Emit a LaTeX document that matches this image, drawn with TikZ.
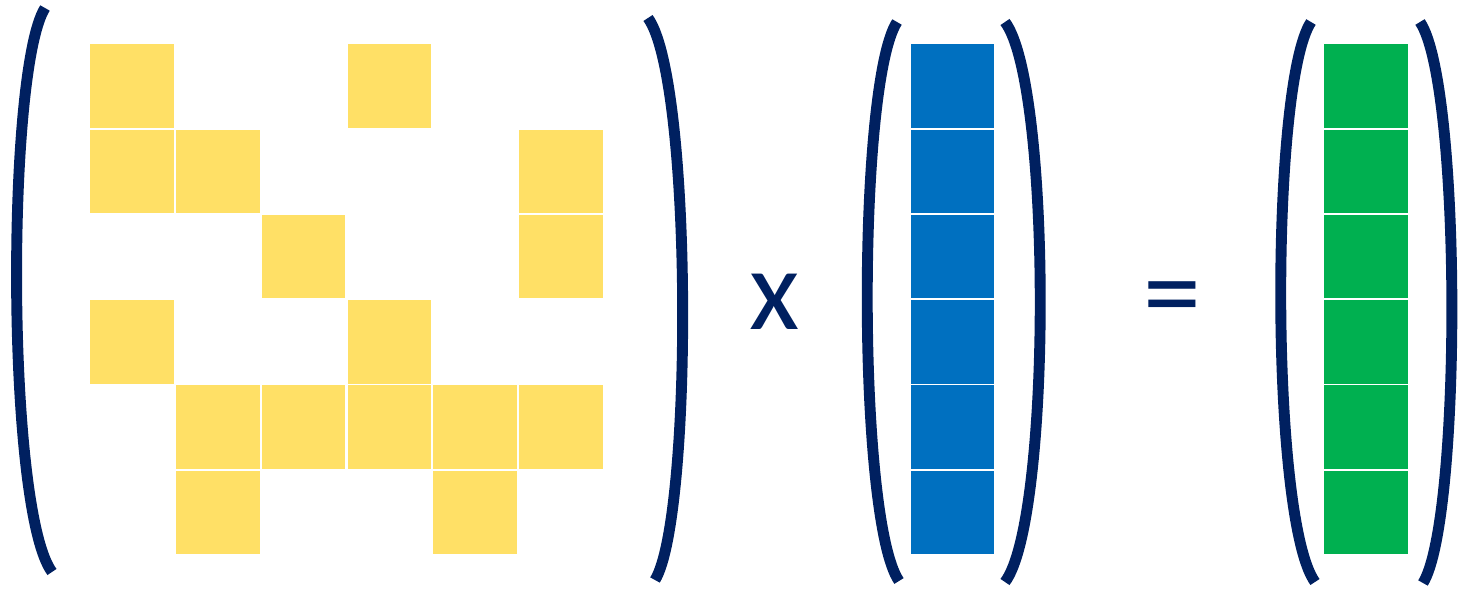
\documentclass[tikz,border=0pt]{standalone}
\usepackage{fontspec}
\newfontfamily\opfont{Carlito}
\definecolor{parnavy}{RGB}{0,32,96}
\definecolor{sqyellow}{RGB}{255,224,102}
\definecolor{sqblue}{RGB}{0,112,192}
\definecolor{sqgreen}{RGB}{0,176,80}
\tikzset{
  cell/.style={minimum size=0.835cm, inner sep=0pt, outer sep=0pt, draw=none},
  ylwcell/.style={cell, fill=sqyellow},
  blucell/.style={cell, fill=sqblue},
  grncell/.style={cell, fill=sqgreen},
  paren/.style={draw=parnavy, line width=3.1pt},
  optext/.style={text=parnavy, font=\opfont\fontsize{33}{38}\selectfont, inner sep=0pt, anchor=base}
}
\begin{document}
\begin{tikzpicture}[x=0.01cm, y=-0.01cm]
    \useasboundingbox (0,0) rectangle (1459,591);
    % sparse matrix
    \foreach \r/\c in {0/0,0/3,1/0,1/1,1/5,2/2,2/5,3/0,3/3,4/1,4/2,4/3,4/4,4/5,5/1,5/4}
        \node[ylwcell] (m-\r-\c) at ({132+85.8*\c},{86+85.3*\r}) {};
    % vectors
    \foreach \r in {0,...,5} {
        \node[blucell] (v-\r) at (952.5,{86+85.3*\r}) {};
        \node[grncell] (w-\r) at (1366,{86+85.3*\r}) {};
    }
    % parentheses
    \draw[paren] (45,8) .. controls (6,70) and (6,510) .. (52,572);
    \draw[paren] (648,18) .. controls (693,80) and (693,518) .. (655,580);
    \draw[paren] (897,22) .. controls (857,84) and (857,520) .. (899,581);
    \draw[paren] (1005,22) .. controls (1052,84) and (1052,520) .. (1005,582);
    \draw[paren] (1311,22) .. controls (1270,84) and (1270,520) .. (1315,582);
    \draw[paren] (1420,22) .. controls (1462,84) and (1462,520) .. (1423,583);
    % operators
    \node[optext] (times) at (775,330) {x};
    \node[optext] (equals) at (1172,332) {=};
\end{tikzpicture}
\end{document}
